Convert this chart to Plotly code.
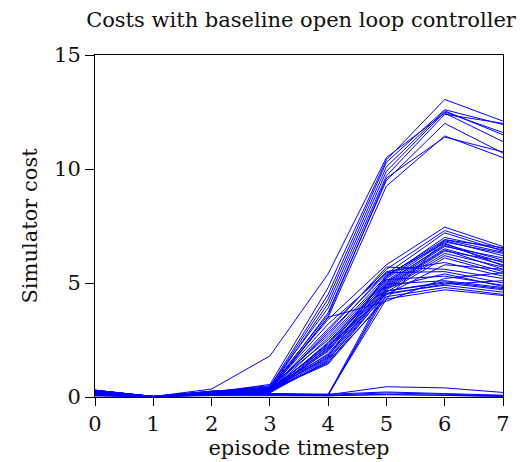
import plotly.graph_objects as go

timesteps = [0, 1, 2, 3, 4, 5, 6, 7]
x_tick_labels = ["0", "1", "2", "3", "4", "5", "6", "7"]
y_tick_values = [0, 5, 10, 15]

# Episodes whose cost climbs high (~11-13 at step 6)
high_episodes = [
    [0.30, 0.02, 0.35, 1.80, 5.40, 10.50, 12.45, 11.20],
    [0.20, 0.02, 0.20, 0.55, 4.80, 10.40, 13.05, 12.10],
    [0.15, 0.01, 0.15, 0.45, 4.50, 10.30, 12.60, 11.95],
    [0.25, 0.03, 0.25, 0.40, 4.30, 10.10, 12.55, 11.50],
    [0.10, 0.02, 0.18, 0.35, 4.10, 9.90, 12.50, 11.60],
    [0.22, 0.01, 0.22, 0.50, 3.90, 9.70, 12.40, 12.00],
    [0.18, 0.02, 0.12, 0.30, 3.70, 9.50, 12.00, 10.70],
    [0.12, 0.01, 0.20, 0.25, 3.50, 9.25, 11.45, 10.50],
    [0.28, 0.02, 0.16, 0.42, 3.60, 9.60, 11.40, 10.75],
]

# Episodes with medium cost (~5-7 at step 6)
mid_episodes = [
    [0.25, 0.02, 0.20, 0.40, 3.40, 5.80, 7.45, 6.60],
    [0.10, 0.01, 0.15, 0.30, 3.00, 5.60, 7.30, 6.50],
    [0.20, 0.02, 0.25, 0.35, 2.80, 5.40, 7.20, 6.40],
    [0.15, 0.03, 0.10, 0.25, 2.60, 5.30, 6.90, 6.55],
    [0.30, 0.02, 0.22, 0.45, 2.50, 5.20, 6.85, 6.20],
    [0.05, 0.01, 0.18, 0.20, 2.40, 5.10, 6.80, 6.30],
    [0.18, 0.02, 0.12, 0.30, 2.30, 5.00, 6.70, 6.00],
    [0.22, 0.02, 0.20, 0.38, 2.20, 5.05, 6.65, 5.90],
    [0.12, 0.01, 0.16, 0.28, 2.10, 4.95, 6.60, 6.10],
    [0.28, 0.03, 0.24, 0.32, 2.00, 4.90, 6.50, 5.80],
    [0.08, 0.02, 0.14, 0.22, 1.90, 4.85, 6.45, 5.60],
    [0.16, 0.01, 0.20, 0.26, 1.80, 4.80, 6.40, 5.95],
    [0.24, 0.02, 0.18, 0.34, 1.70, 4.75, 6.30, 5.70],
    [0.14, 0.02, 0.10, 0.18, 1.60, 4.70, 6.20, 5.50],
    [0.20, 0.01, 0.22, 0.30, 1.50, 4.60, 6.10, 5.40],
    [0.26, 0.02, 0.16, 0.42, 2.70, 5.50, 5.90, 5.30],
    [0.10, 0.03, 0.12, 0.24, 2.90, 5.70, 5.60, 5.20],
    [0.18, 0.02, 0.20, 0.36, 3.20, 5.45, 5.50, 5.00],
    [0.22, 0.01, 0.14, 0.28, 2.35, 5.15, 5.30, 4.90],
    [0.06, 0.02, 0.18, 0.20, 2.05, 4.95, 5.10, 4.80],
    [0.30, 0.02, 0.26, 0.40, 1.85, 4.65, 5.00, 4.70],
    [0.12, 0.01, 0.10, 0.26, 1.65, 4.55, 4.90, 4.60],
    [0.16, 0.02, 0.20, 0.30, 1.45, 4.40, 4.80, 4.50],
    [0.20, 0.02, 0.15, 0.22, 1.55, 4.30, 4.70, 4.45],
    [0.14, 0.01, 0.12, 0.18, 2.25, 4.50, 4.95, 5.10],
    [0.24, 0.02, 0.22, 0.34, 3.50, 4.20, 5.20, 5.45],
    [0.18, 0.02, 0.15, 0.15, 0.10, 4.80, 5.40, 4.85],
    [0.10, 0.01, 0.12, 0.12, 0.08, 4.50, 5.80, 5.60],
    [0.22, 0.02, 0.18, 0.16, 0.12, 4.30, 6.90, 6.35],
    [0.15, 0.01, 0.10, 0.14, 0.06, 4.65, 5.05, 4.75],
    [0.08, 0.02, 0.14, 0.20, 2.15, 5.25, 7.00, 6.45],
    [0.26, 0.02, 0.20, 0.30, 1.75, 5.35, 6.75, 5.75],
]

# Episodes that stay near zero cost
low_episodes = [
    [0.20, 0.01, 0.10, 0.12, 0.10, 0.45, 0.40, 0.20],
    [0.15, 0.02, 0.08, 0.10, 0.08, 0.18, 0.12, 0.05],
    [0.25, 0.01, 0.12, 0.08, 0.06, 0.10, 0.08, 0.04],
    [0.10, 0.02, 0.06, 0.06, 0.05, 0.12, 0.06, 0.02],
    [0.30, 0.02, 0.14, 0.10, 0.12, 0.22, 0.15, 0.08],
]

FONT = "DejaVu Serif"
TXT = "#111111"

fig = go.Figure()
for ep in high_episodes + mid_episodes + low_episodes:
    fig.add_trace(go.Scatter(
        x=timesteps, y=ep, mode="lines",
        line=dict(color="#0000ff", width=1),
        showlegend=False, hoverinfo="skip",
    ))

fig.update_layout(
    width=521, height=462,
    margin=dict(l=95, r=11, t=55, b=64),
    paper_bgcolor="white", plot_bgcolor="white",
    font=dict(family=FONT, size=21, color=TXT),
    title=dict(text="Costs with baseline open loop controller",
               x=301 / 521, xanchor="center", y=1 - 20 / 462, yanchor="middle",
               font=dict(family=FONT, size=21, color=TXT)),
)
fig.update_xaxes(
    range=[0, 7], tickmode="array", tickvals=timesteps, ticktext=x_tick_labels,
    showgrid=False, zeroline=False,
    showline=True, linecolor="black", linewidth=1, mirror=True,
    ticks="outside", ticklen=8, tickcolor="black",
    title=dict(text="episode timestep", standoff=0, font=dict(family=FONT, size=21, color=TXT)),
    tickfont=dict(family=FONT, size=21, color=TXT),
)
fig.update_yaxes(
    range=[0, 15], tickmode="array", tickvals=y_tick_values,
    showgrid=False, zeroline=False,
    showline=True, linecolor="black", linewidth=1, mirror=True,
    ticks="outside", ticklen=9, tickcolor="black",
    title=dict(text="Simulator cost", standoff=10, font=dict(family=FONT, size=21, color=TXT)),
    tickfont=dict(family=FONT, size=21, color=TXT),
)

fig.write_html("out.html")
